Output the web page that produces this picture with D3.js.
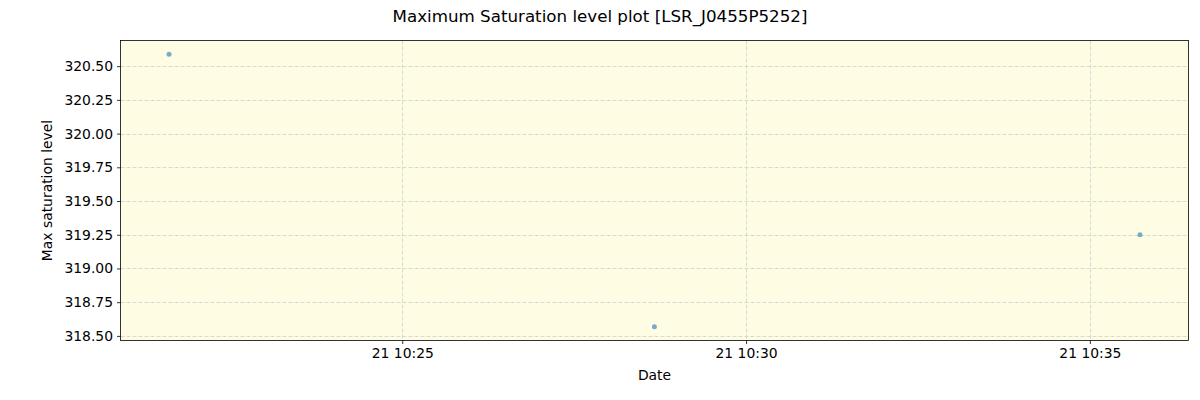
<!DOCTYPE html>
<html><head><meta charset="utf-8">
<script src="https://cdn.jsdelivr.net/npm/d3@7"></script>
<style>body{margin:0;background:#fff;} text{font-family:"DejaVu Sans",sans-serif;}</style>
</head><body>
<svg id="c" width="1200" height="400"></svg>
<script>
const times = ["2023-01-21T10:21:36.5Z", "2023-01-21T10:28:40Z", "2023-01-21T10:35:43.7Z"];
const values = [320.589, 318.567, 319.25];
const yTicks = [318.50, 318.75, 319.00, 319.25, 319.50, 319.75, 320.00, 320.25, 320.50];
const xTicks = ["2023-01-21T10:25:00Z", "2023-01-21T10:30:00Z", "2023-01-21T10:35:00Z"];

const data = times.map((t, i) => ({t: new Date(t), v: values[i]}));
const L = 120.5, R = 1188.5, T = 40.5, B = 340.5;
const svg = d3.select("#c");

const tExt = d3.extent(data, d => d.t);
const tPad = (tExt[1] - tExt[0]) * 0.05;
const x = d3.scaleUtc().domain([new Date(+tExt[0] - tPad), new Date(+tExt[1] + tPad)]).range([L, R]);
const vExt = d3.extent(values);
const vPad = (vExt[1] - vExt[0]) * 0.05;
const y = d3.scaleLinear().domain([vExt[0] - vPad, vExt[1] + vPad]).range([B, T]);

svg.append("rect").attr("x", L).attr("y", T).attr("width", R - L).attr("height", B - T).attr("fill", "#fefde3");

const xt = xTicks.map(s => new Date(s));
const g = svg.append("g");
g.selectAll(".gx").data(xt).enter().append("line")
  .attr("x1", d => Math.round(x(d)) + 0.5).attr("x2", d => Math.round(x(d)) + 0.5)
  .attr("y1", T).attr("y2", B).attr("stroke", "#cfcfcf").attr("stroke-dasharray", "4,2").attr("stroke-width", 0.8);
g.selectAll(".gy").data(yTicks).enter().append("line")
  .attr("y1", d => Math.round(y(d)) + 0.5).attr("y2", d => Math.round(y(d)) + 0.5)
  .attr("x1", L).attr("x2", R).attr("stroke", "#cfcfcf").attr("stroke-dasharray", "4,2").attr("stroke-width", 0.8);

svg.selectAll(".pt").data(data).enter().append("circle")
  .attr("cx", d => x(d.t)).attr("cy", d => y(d.v)).attr("r", 2.5)
  .attr("fill", "#1f77b4").attr("fill-opacity", 0.6);

const xAxis = d3.axisBottom(x).tickValues(xt).tickFormat(d3.utcFormat("%d %H:%M")).tickSize(3.5).tickPadding(4);
const ax = svg.append("g").attr("transform", `translate(0,${B})`).call(xAxis);
const yAxis = d3.axisLeft(y).tickValues(yTicks).tickFormat(d3.format(".2f")).tickSize(3.5).tickPadding(4);
const ay = svg.append("g").attr("transform", `translate(${L},0)`).call(yAxis);
[ax, ay].forEach(a => {
  a.select(".domain").remove();
  a.selectAll("text").attr("font-size", "13.9px").attr("fill", "#000").attr("font-family", "DejaVu Sans");
  a.selectAll("line").attr("stroke", "#000").attr("stroke-width", 0.8);
});

svg.append("rect").attr("x", L).attr("y", T).attr("width", R - L).attr("height", B - T)
  .attr("fill", "none").attr("stroke", "#000").attr("stroke-width", 0.8);

svg.append("text").attr("x", 600).attr("y", 22).attr("text-anchor", "middle").attr("font-size", "16.7px").text("Maximum Saturation level plot [LSR_J0455P5252]");
svg.append("text").attr("x", (L + R) / 2).attr("y", 380).attr("text-anchor", "middle").attr("font-size", "13.9px").text("Date");
svg.append("text").attr("transform", `translate(52,${(T + B) / 2}) rotate(-90)`).attr("text-anchor", "middle").attr("font-size", "13.9px").text("Max saturation level");
</script>
</body></html>
